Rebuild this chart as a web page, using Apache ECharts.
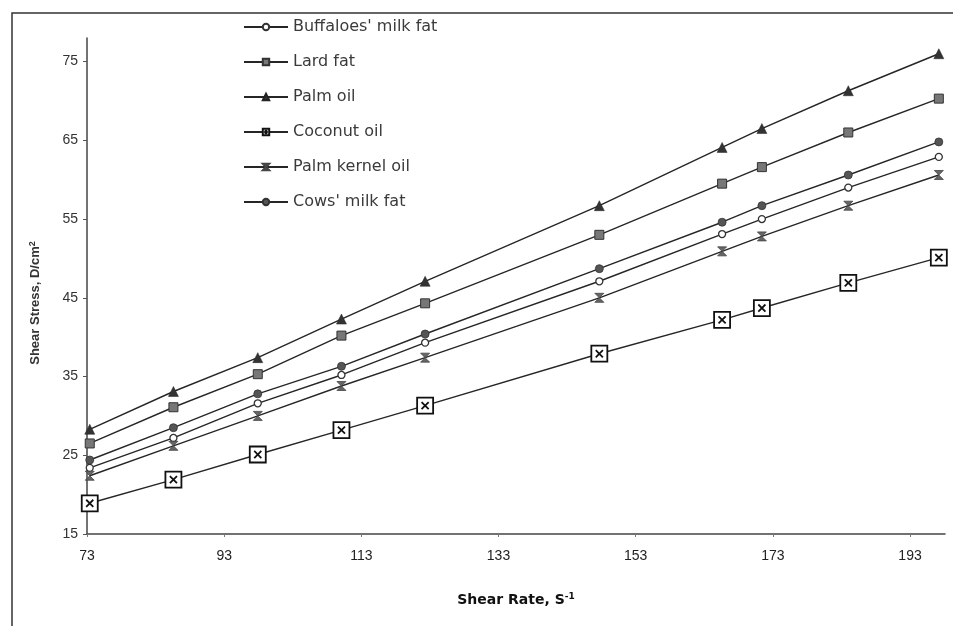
<!DOCTYPE html>
<html>
<head>
<meta charset="utf-8">
<title>Shear stress vs shear rate</title>
<script src="https://cdn.jsdelivr.net/npm/echarts@6.0.0/dist/echarts.min.js"></script>
<style>
  html, body { margin: 0; padding: 0; background: #fff; }
  #chart { width: 953px; height: 626px; }
</style>
</head>
<body>
<div id="chart"></div>
<script>
// shear rate (s^-1) of each measurement
const shearRate = [73.4, 85.6, 97.9, 110.1, 122.3, 147.7, 165.6, 171.4, 184.0, 197.2]

// shear stress (D/cm2) per fat / oil
const buffaloesMilkFat = [23.4, 27.2, 31.6, 35.2, 39.3, 47.1, 53.1, 55.0, 59.0, 62.9]
const lardFat = [26.5, 31.1, 35.3, 40.2, 44.3, 53.0, 59.5, 61.6, 66.0, 70.3]
const palmOil = [28.3, 33.1, 37.4, 42.3, 47.1, 56.7, 64.1, 66.5, 71.3, 76.0]
const coconutOil = [18.9, 21.9, 25.1, 28.2, 31.3, 37.9, 42.2, 43.7, 46.9, 50.1]
const palmKernelOil = [22.4, 26.2, 30.0, 33.8, 37.4, 45.0, 50.9, 52.8, 56.7, 60.6]
const cowsMilkFat = [24.4, 28.5, 32.8, 36.3, 40.4, 48.7, 54.6, 56.7, 60.6, 64.8]

// axis ticks
const xTicks = [73, 93, 113, 133, 153, 173, 193]
const yTicks = [15, 25, 35, 45, 55, 65, 75]

const font = 'Liberation Sans, Arial, sans-serif'
const wideFont = 'DejaVu Sans, Liberation Sans, sans-serif'

const pairs = (ys) => shearRate.map((x, i) => [x, ys[i]])

const makeSeries = (name, ys, symbol, symbolSize, itemStyle) => ({
  name,
  type: 'line',
  data: pairs(ys),
  symbol,
  symbolSize,
  showAllSymbol: true,
  lineStyle: { color: '#262626', width: 1.4 },
  itemStyle,
  emphasis: { disabled: true },
  z: 3
})

const chart = echarts.init(document.getElementById('chart'), null, { renderer: 'canvas' })

chart.setOption({
  animation: false,
  backgroundColor: '#fff',
  textStyle: { fontFamily: font },
  grid: { left: 87, right: 8, top: 38, bottom: 92 },
  graphic: [
    {
      type: 'polyline',
      shape: { points: [[12, 626], [12, 13], [953, 13]] },
      style: { stroke: '#333', lineWidth: 1.5, fill: null }
    }
  ],
  legend: {
    orient: 'vertical',
    left: 243,
    top: 19,
    padding: 0,
    itemWidth: 44,
    itemHeight: 8,
    itemGap: 19,
    textStyle: { fontSize: 16, lineHeight: 16, color: '#3a3a3a', fontFamily: wideFont },
    data: ["Buffaloes' milk fat", 'Lard fat', 'Palm oil', 'Coconut oil', 'Palm kernel oil', "Cows' milk fat"]
  },
  xAxis: {
    type: 'value',
    min: 73,
    max: 198.1,
    splitLine: { show: false },
    axisLine: { lineStyle: { color: '#444', width: 1.5 } },
    axisTick: { show: true, length: 3, customValues: xTicks, lineStyle: { color: '#777' } },
    axisLabel: { customValues: xTicks, margin: 15, fontSize: 14, color: '#222', fontFamily: font },
    name: 'Shear Rate, S{sup|-1}',
    nameLocation: 'middle',
    nameGap: 58,
    nameTextStyle: {
      fontSize: 14,
      fontWeight: 'bold',
      color: '#111',
      fontFamily: wideFont,
      rich: { sup: { fontSize: 9, fontWeight: 'bold', verticalAlign: 'top', padding: [0, 0, 7, 0] } }
    }
  },
  yAxis: {
    type: 'value',
    min: 15,
    max: 78,
    splitLine: { show: false },
    axisLine: { lineStyle: { color: '#444', width: 1.5 } },
    axisTick: { show: true, length: 4, customValues: yTicks, lineStyle: { color: '#555' } },
    axisLabel: { customValues: yTicks, margin: 9, fontSize: 14, color: '#333', fontFamily: font },
    name: 'Shear Stress, D/cm{sup|2}',
    nameLocation: 'middle',
    nameRotate: 90,
    nameGap: 44,
    nameTextStyle: {
      fontSize: 13,
      fontWeight: 'bold',
      color: '#333',
      fontFamily: font,
      padding: [0, 0, 0, -34],
      rich: { sup: { fontSize: 9, fontWeight: 'bold', verticalAlign: 'top', padding: [0, 0, 6, 0] } }
    }
  },
  series: [
    makeSeries("Buffaloes' milk fat", buffaloesMilkFat, 'circle', 7,
      { color: '#fff', borderColor: '#333', borderWidth: 1.3 }),
    makeSeries('Lard fat', lardFat, 'rect', 9,
      { color: '#777', borderColor: '#333', borderWidth: 1 }),
    makeSeries('Palm oil', palmOil, 'triangle', 10,
      { color: '#333', borderColor: '#222', borderWidth: 0.5 }),
    makeSeries('Coconut oil', coconutOil, 'path://M1,1H19V19H1Z M6,6L14,14 M14,6L6,14', 16,
      { color: '#fff', borderColor: '#111', borderWidth: 1.8 }),
    makeSeries('Palm kernel oil', palmKernelOil, 'path://M0,0H10L0,10H10Z', 9,
      { color: '#666', borderColor: '#444', borderWidth: 0.8 }),
    makeSeries("Cows' milk fat", cowsMilkFat, 'circle', 8,
      { color: '#555', borderColor: '#333', borderWidth: 0.8 })
  ]
})
</script>
</body>
</html>
